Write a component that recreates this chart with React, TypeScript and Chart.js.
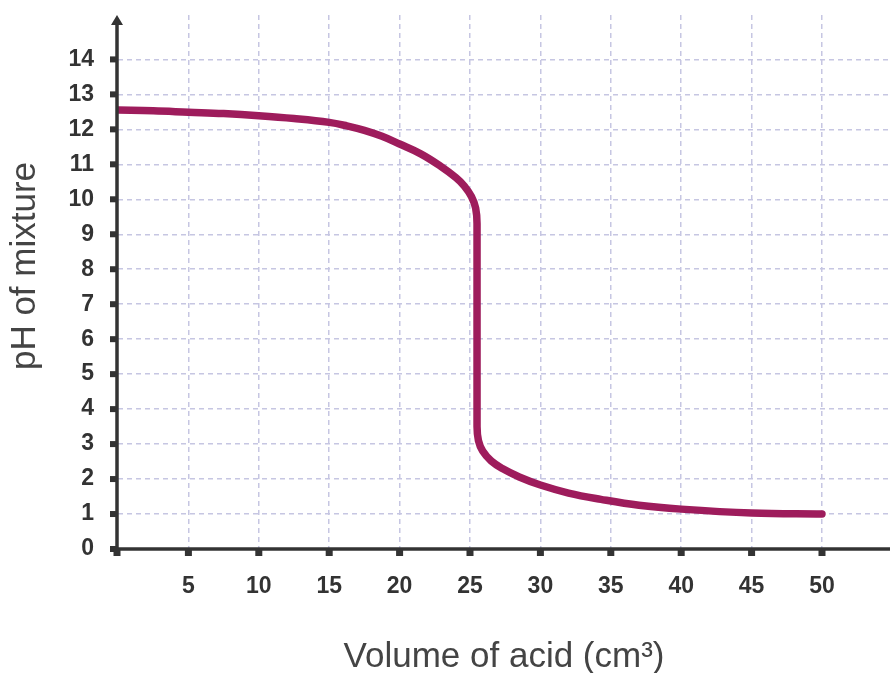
import React, { useEffect, useRef } from "react";
import { Chart, registerables } from "chart.js";

Chart.register(...registerables);

// Volume of acid (cm³)
const volume: number[] = [0, 2.5, 5, 7.5, 10, 12.5, 15, 16.25, 17.5, 18.75, 20, 21.5, 22.9, 24, 24.6, 25.1, 25.4, 25.5, 25.5, 25.6, 25.9, 26.5, 27.3, 28.5, 30, 32, 34.3, 37, 40, 45, 50];
// pH of mixture
const ph: number[] = [12.55, 12.53, 12.49, 12.45, 12.39, 12.31, 12.2, 12.1, 11.97, 11.8, 11.58, 11.3, 10.95, 10.62, 10.38, 10.08, 9.75, 9.3, 3.5, 3.1, 2.8, 2.52, 2.3, 2.06, 1.83, 1.6, 1.42, 1.25, 1.14, 1.03, 1.0];

const xTicks: number[] = [5, 10, 15, 20, 25, 30, 35, 40, 45, 50];
const yTicks: number[] = [0, 1, 2, 3, 4, 5, 6, 7, 8, 9, 10, 11, 12, 13, 14];

const xTitle = "Volume of acid (cm³)";
const yTitle = "pH of mixture";

const AXIS = "#333333";
const CURVE = "#9e1c5c";
const GRID = "#c6c6e2";
const TITLE = "#444444";

const axesPlugin = {
  id: "axesPlugin",
  afterDatasetsDraw(chart: any) {
    const { ctx, chartArea, scales } = chart;
    const xs = scales.x;
    const ys = scales.y;
    const x0 = xs.getPixelForValue(0) - 1;
    const y0 = ys.getPixelForValue(0);
    ctx.save();
    ctx.strokeStyle = AXIS;
    ctx.fillStyle = AXIS;
    ctx.lineWidth = 3.5;
    // x axis
    ctx.beginPath();
    ctx.moveTo(x0 - 6, y0);
    ctx.lineTo(chart.width, y0);
    ctx.stroke();
    // y axis
    ctx.beginPath();
    ctx.moveTo(x0, y0 + 4);
    ctx.lineTo(x0, chartArea.top + 8);
    ctx.stroke();
    // arrow
    ctx.beginPath();
    ctx.moveTo(x0, chartArea.top);
    ctx.lineTo(x0 - 6, chartArea.top + 10);
    ctx.lineTo(x0 + 6, chartArea.top + 10);
    ctx.closePath();
    ctx.fill();
    // y tick marks
    yTicks.forEach((v) => {
      const py = ys.getPixelForValue(v);
      ctx.fillRect(x0 - 7, py - 3, 7, 6);
    });
    // x tick marks
    [0, ...xTicks].forEach((v) => {
      const px = v === 0 ? x0 : xs.getPixelForValue(v);
      ctx.fillRect(px - 3.5, y0, 7, 7);
    });
    // titles
    ctx.fillStyle = TITLE;
    ctx.font = "35px 'Liberation Sans', Arial, sans-serif";
    ctx.textAlign = "center";
    ctx.textBaseline = "alphabetic";
    ctx.fillText(xTitle, 504, 667);
    ctx.translate(35, 266);
    ctx.rotate(-Math.PI / 2);
    ctx.fillText(yTitle, 0, 0);
    ctx.restore();
  },
};

export default function App() {
  const ref = useRef<HTMLCanvasElement | null>(null);
  useEffect(() => {
    if (!ref.current) return;
    const chart = new Chart(ref.current, {
      type: "scatter",
      data: {
        datasets: [
          {
            data: volume.map((v, i) => ({ x: v, y: ph[i] })),
            showLine: true,
            borderColor: CURVE,
            borderWidth: 7.5,
            borderCapStyle: "round",
            borderJoinStyle: "round",
            pointRadius: 0,
            tension: 0.4,
            fill: false,
          } as any,
        ],
      },
      plugins: [axesPlugin],
      options: {
        animation: false,
        responsive: false,
        devicePixelRatio: 1,
        layout: { padding: { top: 15, right: 0, bottom: 0, left: 0 } },
        plugins: { legend: { display: false }, tooltip: { enabled: false } },
        scales: {
          x: {
            type: "linear",
            min: 0,
            max: 54.83,
            afterFit: (s: any) => {
              s.height = 124;
              s.paddingLeft = 0;
              s.paddingRight = 0;
            },
            afterBuildTicks: (s: any) => {
              s.ticks = xTicks.map((v) => ({ value: v }));
            },
            grid: { color: GRID, lineWidth: 1.5, drawTicks: false },
            border: { display: false, dash: [5, 4] },
            ticks: {
              padding: 24,
              color: AXIS,
              font: { family: "'Liberation Sans', Arial, sans-serif", size: 23, weight: "bold" },
            },
          },
          y: {
            type: "linear",
            min: 0,
            max: 15.27,
            afterFit: (s: any) => {
              s.width = 118;
              s.paddingTop = 0;
              s.paddingBottom = 0;
            },
            afterBuildTicks: (s: any) => {
              s.ticks = yTicks.map((v) => ({ value: v }));
            },
            grid: { color: GRID, lineWidth: 1.5, drawTicks: false },
            border: { display: false, dash: [5, 4] },
            ticks: {
              padding: 24,
              color: AXIS,
              font: { family: "'Liberation Sans', Arial, sans-serif", size: 23, weight: "bold" },
            },
          },
        },
      } as any,
    });
    return () => chart.destroy();
  }, []);
  return (
    <div style={{ position: "absolute", left: 0, top: 0, width: 890, height: 673, background: "#fff" }}>
      <canvas ref={ref} width={890} height={673} style={{ width: 890, height: 673 }} />
    </div>
  );
}
